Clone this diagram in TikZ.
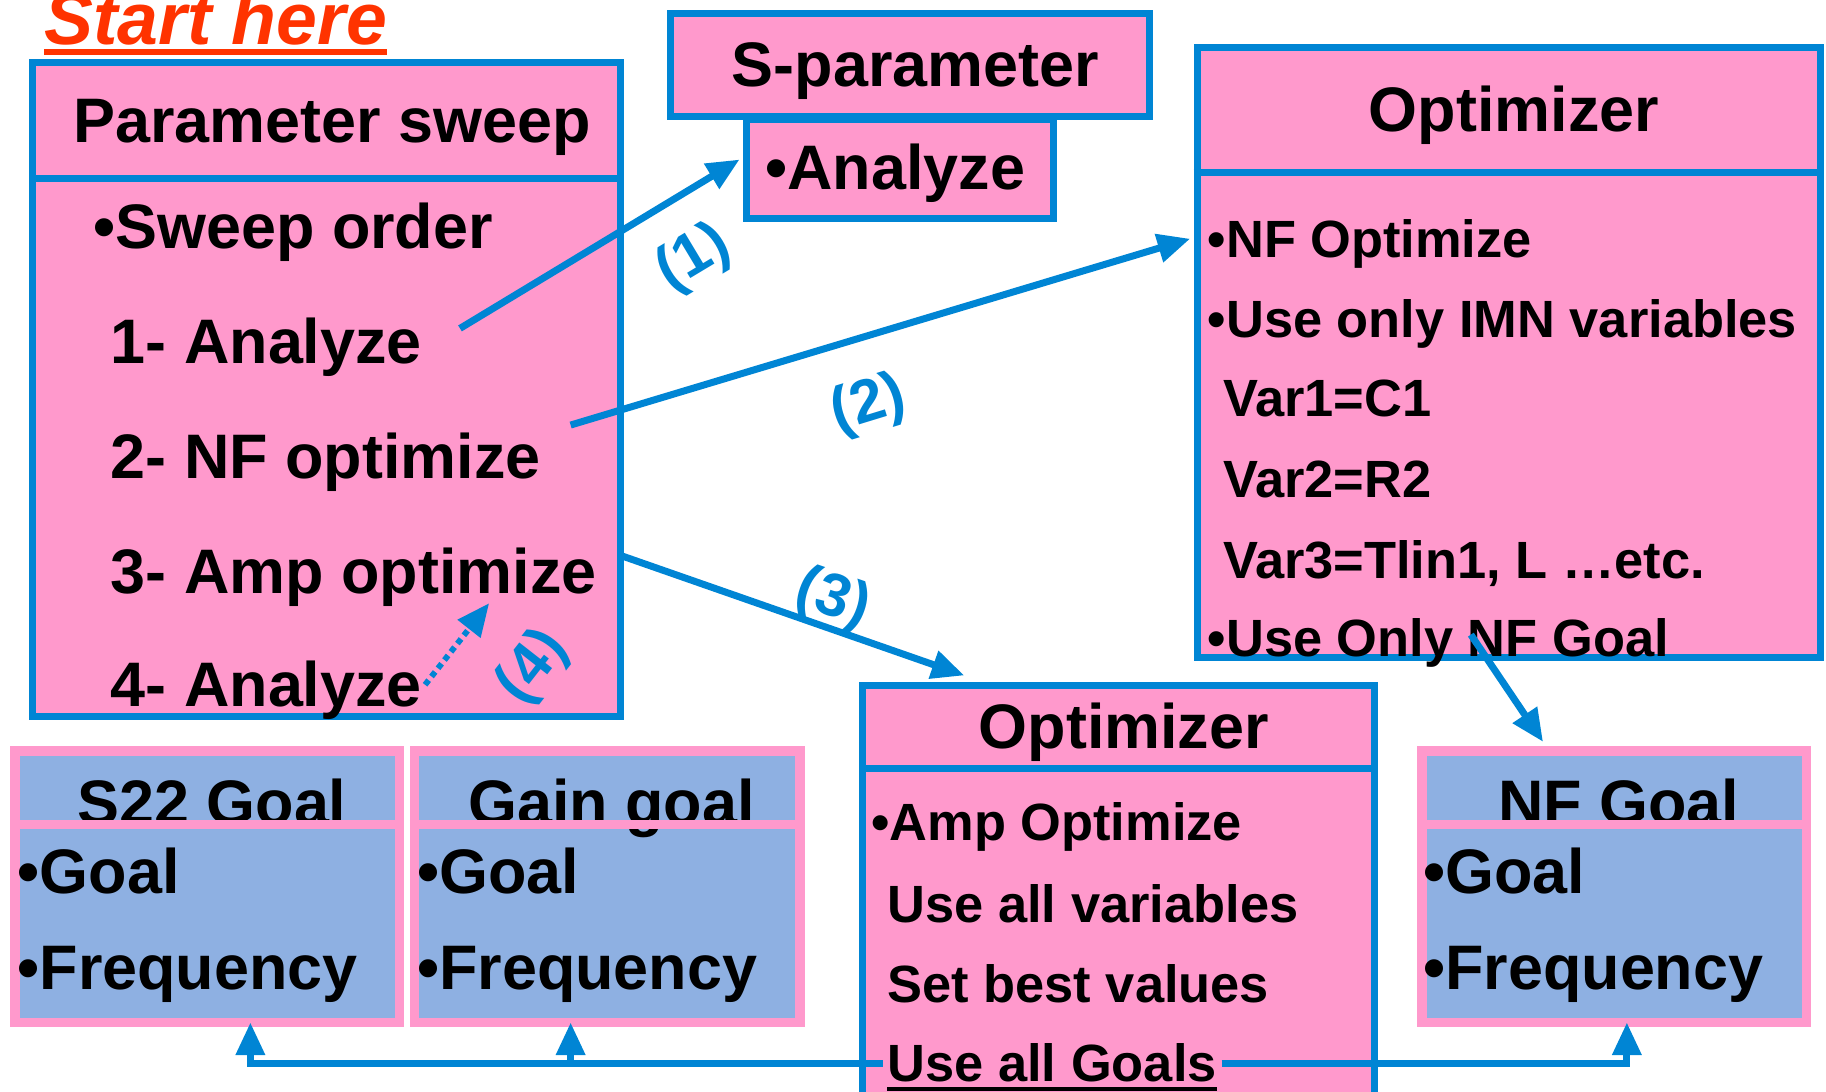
\documentclass[tikz,border=0pt]{standalone}
\usepackage{fontspec}
\setmainfont{Liberation Sans}
\usetikzlibrary{arrows.meta}
\definecolor{boxblue}{RGB}{0,133,212}
\definecolor{boxpink}{RGB}{255,153,204}
\definecolor{goalblue}{RGB}{142,176,226}
\definecolor{startred}{RGB}{255,51,0}

\tikzset{
  panel/.style={draw=boxblue, line width=6pt, fill=boxpink, inner sep=0pt, anchor=north west},
  goalpanel/.style={draw=boxpink, line width=8pt, fill=goalblue, inner sep=0pt, anchor=north west},
  bigtxt/.style={font=\fontsize{54}{60}\selectfont\bfseries, inner sep=0pt, anchor=base},
  itemtxt/.style={font=\fontsize{54}{60}\selectfont\bfseries, inner sep=0pt, anchor=base west},
  smalltxt/.style={font=\fontsize{45}{50}\selectfont\bfseries, inner sep=0pt, anchor=base west},
  steplabel/.style={font=\fontsize{52}{58}\selectfont\bfseries, text=boxblue, inner sep=0pt},
  flow/.style={draw=boxblue, line width=6pt, -{Triangle[length=28pt,width=24pt]}},
}

\begin{document}
\begin{tikzpicture}[x=1pt,y=-1pt]
  \useasboundingbox (0,0) rectangle (1568,937);

  % parameter sweep
  \node[panel, minimum width=505pt, minimum height=561pt] (sweep) at (25,51) {};
  \draw[boxblue, line width=6pt] (25,153) -- (530,153);
  \node[bigtxt] (sweeptitle) at (285,122) {Parameter sweep};
  \node[itemtxt] (sorder) at (80,213) {•Sweep order};
  \node[itemtxt] (it1) at (95,312) {1- Analyze};
  \node[itemtxt] (it2) at (95,411) {2- NF optimize};
  \node[itemtxt] (it3) at (95,510) {3- Amp optimize};
  \node[itemtxt] (it4) at (95,607) {4- Analyze};

  % start label
  \node[font=\fontsize{63}{70}\selectfont\bfseries\itshape, text=startred, inner sep=0pt, anchor=base west] (start) at (38,38) {Start here};
  \draw[startred, line width=5pt] ([yshift=-7pt]start.base west) -- ([yshift=-7pt]start.base east);

  % s-parameter
  \node[panel, minimum width=264pt, minimum height=85pt] (anabox) at (638,100) {};
  \node[panel, minimum width=411pt, minimum height=88pt] (spar) at (573,9) {};
  \node[bigtxt] (spartitle) at (786,74) {S-parameter};
  \node[itemtxt] (ana) at (657,163) {•Analyze};

  % optimizer for NF
  \node[panel, minimum width=535pt, minimum height=524pt] (optnf) at (1025,38) {};
  \draw[boxblue, line width=6pt] (1025,148) -- (1560,148);
  \node[bigtxt] (optnftitle) at (1300,113) {Optimizer};
  \node[smalltxt] (nfo) at (1037,221) {•NF Optimize};
  \node[smalltxt] (imn) at (1037,290) {•Use only IMN variables};
  \node[smalltxt] (var1) at (1050,358) {Var1=C1};
  \node[smalltxt] (var2) at (1050,427) {Var2=R2};
  \node[smalltxt] (var3) at (1050,497) {Var3=Tlin1, L …etc.};
  \node[smalltxt] (onlynf) at (1037,564) {•Use Only NF Goal};

  % optimizer for amp
  \node[panel, minimum width=439pt, minimum height=364pt] (optamp) at (738,586) {};
  \draw[boxblue, line width=6pt] (738,660) -- (1177,660);
  \node[bigtxt] (optamptitle) at (965,643) {Optimizer};
  \node[smalltxt] (ampo) at (748,722) {•Amp Optimize};
  \node[smalltxt] (allvar) at (762,792) {Use all variables};
  \node[smalltxt] (best) at (762,861) {Set best values};
  \node[smalltxt, inner xsep=4pt] (allgoals) at (758,929) {Use all Goals};
  \draw[black, line width=4pt] ([xshift=4pt,yshift=-6pt]allgoals.base west) -- ([xshift=-4pt,yshift=-6pt]allgoals.base east);

  % goals
  \node[goalpanel, minimum width=330pt, minimum height=233pt] (s22) at (9,641) {};
  \node[bigtxt] (s22title) at (182,708) {S22 Goal};
  \draw[boxpink, line width=7pt] (9,708) -- (339,708);
  \node[itemtxt] (s22g) at (15,767) {•Goal};
  \node[itemtxt] (s22f) at (15,850) {•Frequency};

  \node[goalpanel, minimum width=331pt, minimum height=233pt] (gain) at (352,641) {};
  \node[bigtxt] (gaintitle) at (525,708) {Gain goal};
  \draw[boxpink, line width=7pt] (352,708) -- (683,708);
  \node[itemtxt] (gaing) at (358,767) {•Goal};
  \node[itemtxt] (gainf) at (358,850) {•Frequency};

  \node[goalpanel, minimum width=330pt, minimum height=233pt] (nfgoal) at (1217,641) {};
  \node[bigtxt] (nftitle) at (1390,708) {NF Goal};
  \draw[boxpink, line width=7pt] (1217,708) -- (1547,708);
  \node[itemtxt] (nfg) at (1222,767) {•Goal};
  \node[itemtxt] (nff) at (1222,850) {•Frequency};

  % flow arrows
  \coordinate (from1) at (395,282);
  \coordinate (to1) at (635,137);
  \coordinate (from2) at (490,365);
  \coordinate (to2) at (1022,205);
  \coordinate (from3) at (533,477);
  \coordinate (to3) at (828,580);
  \coordinate (from4) at (365,588);
  \coordinate (to4) at (420,518);
  \coordinate (fromnf) at (1263,545);
  \coordinate (tonf) at (1325,637);
  \coordinate (s22in) at (215,878);
  \coordinate (gainin) at (490,878);
  \coordinate (nfin) at (1397,878);

  \draw[flow] (from1) -- (to1);
  \draw[flow] (from2) -- (to2);
  \draw[flow] (from3) -- (to3);
  \draw[flow, line width=5pt, dash pattern=on 5pt off 4pt] (from4) -- (to4);
  \draw[flow] (fromnf) -- (tonf);
  \draw[flow] (allgoals.west) -| (s22in);
  \draw[flow] (gainin |- allgoals.west) -- (gainin);
  \draw[flow] (allgoals.east) -| (nfin);

  \node[steplabel, rotate=31] (lbl1) at (596,222) {(1)};
  \node[steplabel, rotate=17] (lbl2) at (746,348) {(2)};
  \node[steplabel, rotate=-19] (lbl3) at (715,515) {(3)};
  \node[steplabel, rotate=52] (lbl4) at (458,573) {(4)};
\end{tikzpicture}
\end{document}
